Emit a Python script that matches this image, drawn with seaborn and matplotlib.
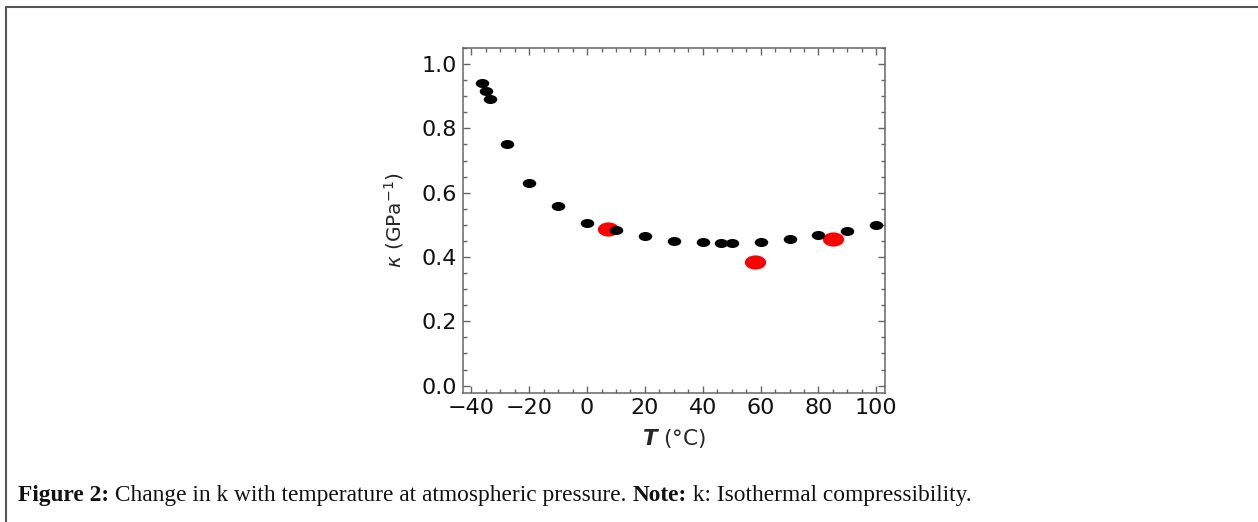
import numpy as np
import pandas as pd
import matplotlib
matplotlib.use("Agg")
import matplotlib.pyplot as plt
from matplotlib.path import Path
from matplotlib.transforms import Affine2D
from matplotlib.lines import Line2D
from matplotlib.ticker import MultipleLocator
import seaborn as sns

# measured compressibility (black) and the three highlighted points (red)
temp_black = [-36.2, -35.1, -33.6, -27.7, -20, -10, 0, 10, 20, 30, 40, 46.3, 50, 60, 70, 80, 90, 100]
kappa_black = [0.941, 0.916, 0.891, 0.750, 0.631, 0.559, 0.505, 0.484, 0.465, 0.450, 0.447,
               0.445, 0.445, 0.447, 0.455, 0.467, 0.481, 0.500]
temp_red = [7.4, 58.2, 84.9]
kappa_red = [0.488, 0.385, 0.457]

x_ticks = [-40, -20, 0, 20, 40, 60, 80, 100]
y_ticks = [0.0, 0.2, 0.4, 0.6, 0.8, 1.0]

sns.set_style("ticks")
plt.rcParams['font.family'] = ['DejaVu Sans']
plt.rcParams['mathtext.fontset'] = 'custom'
plt.rcParams['mathtext.rm'] = 'DejaVu Sans'
plt.rcParams['mathtext.it'] = 'DejaVu Sans:italic'
plt.rcParams['mathtext.bf'] = 'DejaVu Sans:bold:italic'

df_black = pd.DataFrame({'T': temp_black, 'k': kappa_black})
df_red = pd.DataFrame({'T': temp_red, 'k': kappa_red})

# the original image is stretched, so the dots are ellipses
ellipse = Path.unit_circle().transformed(Affine2D().scale(1.5, 1.0))

fig = plt.figure(figsize=(12.58, 5.22), dpi=100)
ax = fig.add_axes([0.3678, 0.2477, 0.3357, 0.6603])

sns.scatterplot(data=df_black, x='T', y='k', ax=ax, color='black', marker=ellipse,
                s=95, linewidth=0, zorder=3)
sns.scatterplot(data=df_red, x='T', y='k', ax=ax, color='#ff0000', marker=ellipse,
                s=235, linewidth=0, zorder=2)

ax.set_xlim(-43, 103)
ax.set_ylim(-0.022, 1.05)
ax.set_xticks(x_ticks)
ax.set_yticks(y_ticks)
ax.set_xticklabels([str(t).replace('-', '\u2212') for t in x_ticks])
ax.set_yticklabels([f"{v:.1f}" for v in y_ticks])
ax.xaxis.set_minor_locator(MultipleLocator(5))
ax.yaxis.set_minor_locator(MultipleLocator(0.05))

for s in ax.spines.values():
    s.set_color('#666666')
    s.set_linewidth(1.1)
ax.tick_params(which='both', direction='in', top=True, right=True, color='#666666',
               width=1.0, labelsize=16, labelcolor='#111111')
ax.tick_params(which='major', length=5, pad=4)
ax.tick_params(which='minor', length=3)

ax.set_xlabel(r'$\mathbf{T}$ (°C)', fontsize=15.5, labelpad=6)
ax.set_ylabel(r'$\kappa$ (GPa$^{-1}$)', fontsize=14.5, labelpad=11)

# page frame: top and left rule
fig.add_artist(Line2D([6 / 1258, 1], [1 - 7 / 522, 1 - 7 / 522], transform=fig.transFigure,
                      color='#555555', linewidth=1.5))
fig.add_artist(Line2D([6 / 1258, 6 / 1258], [0, 1 - 7 / 522], transform=fig.transFigure,
                      color='#555555', linewidth=1.5))

# caption in mixed weights
cap_y = 1 - 501 / 522
parts = [("Figure 2:", 'bold'), (" Change in k with temperature at atmospheric pressure. ", 'normal'),
         ("Note:", 'bold'), (" k: Isothermal compressibility.", 'normal')]
anchor = fig.text(18 / 1258, cap_y, parts[0][0], fontsize=16.8, fontweight=parts[0][1],
                  family='Liberation Serif', va='baseline', ha='left', color='#111111')
for txt, w in parts[1:]:
    anchor = ax.annotate(txt, xy=(1, 0), xycoords=anchor, va='bottom', ha='left',
                         fontsize=16.8, fontweight=w, family='Liberation Serif', color='#111111',
                         annotation_clip=False)

fig.savefig('out.png', dpi=100)
